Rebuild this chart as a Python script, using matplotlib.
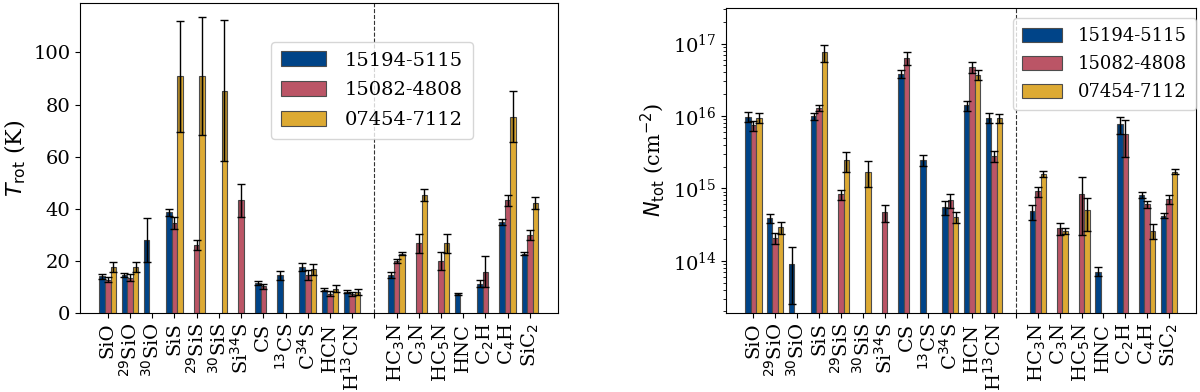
import matplotlib
matplotlib.use('Agg')
import matplotlib.pyplot as plt
import numpy as np

nan = np.nan

molecules = ['SiO', '$^{29}$SiO', '$^{30}$SiO', 'SiS', '$^{29}$SiS', '$^{30}$SiS',
             'Si$^{34}$S', 'CS', '$^{13}$CS', 'C$^{34}$S', 'HCN', 'H$^{13}$CN', '',
             'HC$_3$N', 'C$_3$N', 'HC$_5$N', 'HNC', 'C$_2$H', 'C$_4$H', 'SiC$_2$']
sources = ['15194-5115', '15082-4808', '07454-7112']
colors = ['#004488', '#BB5566', '#DDAA33']

# rotational temperatures (K)
trot_15194 = [14.1, 14.5, 27.9, 38.6, nan, nan, nan, 11.5, 14.5, 17.7, 9.0, 8.1, nan,
              14.5, nan, nan, 7.2, 11.3, 35.0, 22.8]
trot_15082 = [12.8, 13.6, nan, 34.6, 26.0, nan, 43.3, 10.3, nan, 14.5, 7.4, 7.4, nan,
              20.0, 26.7, 20.0, nan, 15.8, 43.3, 29.9]
trot_07454 = [17.7, 17.7, nan, 90.8, 91.0, 85.3, nan, nan, nan, 16.7, 9.4, 8.1, nan,
              22.8, 45.3, 26.7, nan, nan, 75.4, 42.3]
trot_err_15194 = [0.9, 0.7, 8.5, 1.5, nan, nan, nan, 0.6, 1.8, 1.5, 0.7, 0.6, nan,
                  1.1, nan, nan, 0.3, 1.3, 1.1, 0.6]
trot_err_15082 = [1.0, 1.5, nan, 2.4, 1.9, nan, 6.4, 1.0, nan, 1.9, 0.9, 0.7, nan,
                  0.8, 3.6, 3.5, nan, 6.0, 2.1, 1.8]
trot_err_07454 = [1.8, 1.9, nan, 21.2, 22.6, 27.0, nan, nan, nan, 2.3, 1.3, 1.1, nan,
                  0.6, 2.2, 3.7, nan, nan, 9.7, 2.2]

# column densities (cm^-2)
ntot_15194 = [9.7e15, 3.9e14, 9.1e13, 1.0e16, nan, nan, nan, 3.85e16, 2.46e15, 5.5e14,
              1.4e16, 9.5e15, nan, 4.8e14, nan, nan, 7.1e13, 7.7e15, 8.2e14, 4.2e14]
ntot_15082 = [7.4e15, 2.05e14, nan, 1.29e16, 8.3e14, nan, 4.7e14, 6.3e16, nan, 6.9e14,
              4.7e16, 2.8e15, nan, 9.1e14, 2.8e14, 8.3e14, nan, 5.7e15, 6.0e14, 7.1e14]
ntot_07454 = [9.4e15, 2.9e14, nan, 7.6e16, 2.44e15, 1.7e15, nan, nan, nan, 4.0e14,
              3.7e16, 9.4e15, nan, 1.57e15, 2.6e14, 5.0e14, nan, nan, 2.6e14, 1.7e15]
ntot_err_15194 = [1.5e15, 6e13, 6.6e13, 1.1e15, nan, nan, nan, 5e15, 4.5e14, 1.2e14,
                  2.2e15, 1.5e15, nan, 1.1e14, nan, nan, 1e13, 2e15, 8e13, 3.5e13]
ntot_err_15082 = [1.1e15, 3.5e13, nan, 1.3e15, 1.3e14, nan, 1.25e14, 1.3e16, nan, 1.6e14,
                  8e15, 5e14, nan, 1.4e14, 5e13, 6e14, nan, 3e15, 7e13, 1e14]
ntot_err_07454 = [1.5e15, 5.5e13, nan, 2e16, 7.5e14, 6.7e14, nan, nan, nan, 7e13,
                  6e15, 1.4e15, nan, 1.5e14, 2.5e13, 2.4e14, nan, nan, 6e13, 1.3e14]

plt.rcParams['font.family'] = 'DejaVu Serif'
plt.rcParams['font.size'] = 14

x = np.arange(len(molecules))
width = 0.25
offsets = [-width, 0, width]

fig = plt.figure(figsize=(12, 3.92), dpi=100)
ax1 = fig.add_axes([0.0667, 0.2015, 0.398, 0.791])
ax2 = fig.add_axes([0.605, 0.2015, 0.392, 0.778])


def draw(ax, vals, errs):
    for v, e, off, c, lab in zip(vals, errs, offsets, colors, sources):
        v = np.array(v)
        e = np.array(e)
        ax.bar(x + off, v, width, yerr=e, color=c, edgecolor='0.3', linewidth=0.8,
               label=lab, capsize=3, error_kw=dict(ecolor='k', elinewidth=1, capthick=1))
        # darker band where the error bar overlaps the bar
        ax.bar(x + off, e, width * 0.8, bottom=v - e, color='k', alpha=0.2, linewidth=0)
    ax.axvline(12, color='0.2', linestyle='--', linewidth=0.8)
    ax.set_xticks(x)
    ax.set_xticklabels(molecules, rotation=90)
    ax.set_xlim(-1.25, 20.25)


draw(ax1, [trot_15194, trot_15082, trot_07454],
     [trot_err_15194, trot_err_15082, trot_err_07454])
ax1.set_ylim(0, 119)
ax1.set_ylabel(r'$T_\mathrm{rot}$ (K)', fontsize=16)
ax1.legend(loc='upper left', bbox_to_anchor=(0.40, 0.875), borderaxespad=0,
           handlelength=2.3, handleheight=0.8, handletextpad=1.0,
           labelspacing=0.6, borderpad=0.5)

draw(ax2, [ntot_15194, ntot_15082, ntot_07454],
     [ntot_err_15194, ntot_err_15082, ntot_err_07454])
ax2.set_yscale('log')
ax2.set_ylim(1.9e13, 3.1e17)
ax2.set_ylabel(r'$N_\mathrm{tot}$ (cm$^{-2}$)', fontsize=15)
ax2.legend(loc='upper right', bbox_to_anchor=(1.0, 0.967), borderaxespad=0,
           fontsize=13, handlelength=2.2, handleheight=0.8, handletextpad=0.9,
           labelspacing=0.55, borderpad=0.5)

fig.savefig('out.png', dpi=100)
